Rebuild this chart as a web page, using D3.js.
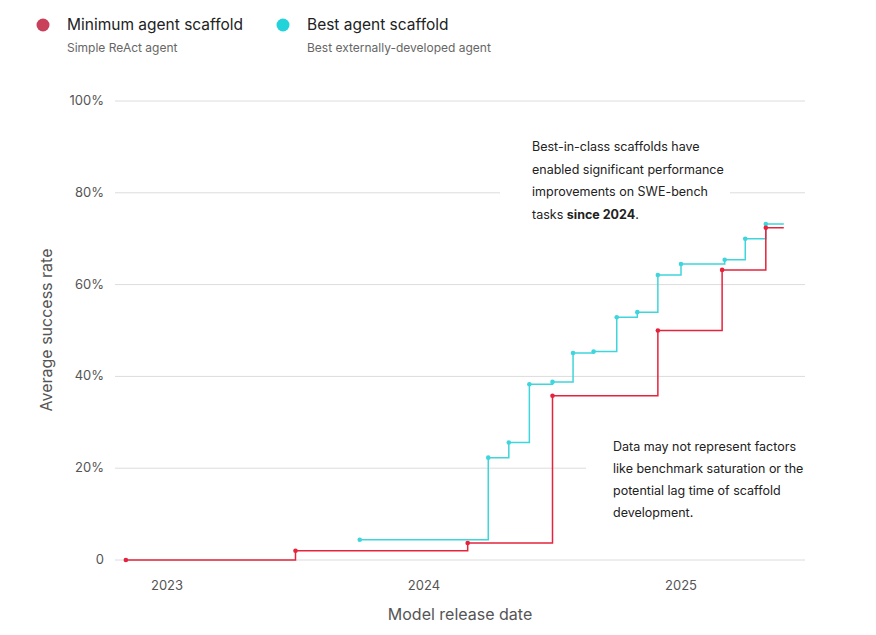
<!DOCTYPE html>
<html>
<head>
<meta charset="utf-8">
<script src="https://cdn.jsdelivr.net/npm/d3@7"></script>
<style>
body { margin: 0; background: #fff; font-family: Inter, "Noto Sans", sans-serif; }
</style>
</head>
<body>
<svg id="chart" width="876" height="635"></svg>
<script>
// values (x = decimal year, y = success %)
var minDates = [2022.84, 2023.50, 2024.17, 2024.50, 2024.91, 2025.16, 2025.33];
var minValues = [0, 2.0, 3.7, 35.8, 50.0, 63.2, 72.4];
var bestDates = [2023.75, 2024.25, 2024.33, 2024.41, 2024.50, 2024.58, 2024.66, 2024.75, 2024.83, 2024.91, 2025.00, 2025.17, 2025.25, 2025.33];
var bestValues = [4.4, 22.3, 25.6, 38.3, 38.8, 45.1, 45.4, 52.9, 54.0, 62.1, 64.5, 65.4, 70.0, 73.2];
var lineEnd = 2025.40;
var yTicks = [0, 20, 40, 60, 80, 100];
var yearTicks = [2023, 2024, 2025];

var svg = d3.select("#chart");
var x = d3.scaleLinear().domain([2023, 2025]).range([167, 681]);
var y = d3.scaleLinear().domain([0, 100]).range([560, 101]);

var red = "#e5233d", cyan = "#3fd5dc";

// gridlines
svg.selectAll(".grid").data(yTicks).enter().append("line")
    .attr("x1", 115).attr("x2", 805)
    .attr("y1", d => y(d)).attr("y2", d => y(d))
    .attr("stroke", "#dcdcdc").attr("stroke-width", 1);

svg.selectAll(".ylab").data(yTicks).enter().append("text")
    .attr("x", 104).attr("y", d => y(d) + 4)
    .attr("text-anchor", "end").attr("font-size", 13).attr("fill", "#555")
    .text(d => d === 0 ? "0" : d + "%");

svg.selectAll(".xlab").data(yearTicks).enter().append("text")
    .attr("x", d => x(d)).attr("y", 590)
    .attr("text-anchor", "middle").attr("font-size", 13).attr("fill", "#555")
    .text(d => d);

svg.append("text").attr("x", 460).attr("y", 620).attr("text-anchor", "middle")
    .attr("font-size", 16).attr("fill", "#555").text("Model release date");
svg.append("text").attr("transform", "translate(52,330) rotate(-90)")
    .attr("text-anchor", "middle").attr("font-size", 16).attr("fill", "#555")
    .text("Average success rate");

// annotation backgrounds hide the gridlines behind them
svg.append("rect").attr("x", 500).attr("y", 132).attr("width", 230).attr("height", 95).attr("fill", "#fff");
svg.append("rect").attr("x", 586).attr("y", 430).attr("width", 220).attr("height", 95).attr("fill", "#fff");

function stepLine(dates, values, color) {
    var pts = dates.map((d, i) => [d, values[i]]);
    pts.push([lineEnd, values[values.length - 1]]);
    var line = d3.line().x(d => x(d[0])).y(d => y(d[1])).curve(d3.curveStepAfter);
    svg.append("path").datum(pts).attr("d", line)
        .attr("fill", "none").attr("stroke", color).attr("stroke-width", 1.5);
    svg.selectAll(null).data(dates).enter().append("circle")
        .attr("cx", d => x(d)).attr("cy", (d, i) => y(values[i]))
        .attr("r", 2.3).attr("fill", color);
}
stepLine(bestDates, bestValues, cyan);
stepLine(minDates, minValues, red);

// annotations
var note1 = svg.append("text").attr("font-size", 12.5).attr("fill", "#222");
["Best-in-class scaffolds have", "enabled significant performance", "improvements on SWE-bench"].forEach((t, i) => {
    note1.append("tspan").attr("x", 532).attr("y", 151 + i * 22.5).text(t);
});
var last = note1.append("tspan").attr("x", 532).attr("y", 218.5).text("tasks ");
note1.append("tspan").attr("font-weight", "bold").text("since 2024");
note1.append("tspan").text(".");

var note2 = svg.append("text").attr("font-size", 12.5).attr("fill", "#222");
["Data may not represent factors", "like benchmark saturation or the", "potential lag time of scaffold", "development."].forEach((t, i) => {
    note2.append("tspan").attr("x", 613).attr("y", 451 + i * 22).text(t);
});

// legend
var legend = [
    {x: 43, name: "Minimum agent scaffold", sub: "Simple ReAct agent", color: "#c8405a"},
    {x: 283, name: "Best agent scaffold", sub: "Best externally-developed agent", color: "#22d3da"}
];
legend.forEach(l => {
    svg.append("circle").attr("cx", l.x).attr("cy", 25).attr("r", 6.5).attr("fill", l.color);
    svg.append("text").attr("x", l.x + 24).attr("y", 30).attr("font-size", 15.5).attr("fill", "#222").text(l.name);
    svg.append("text").attr("x", l.x + 24).attr("y", 52).attr("font-size", 12).attr("fill", "#666").text(l.sub);
});
</script>
</body>
</html>
